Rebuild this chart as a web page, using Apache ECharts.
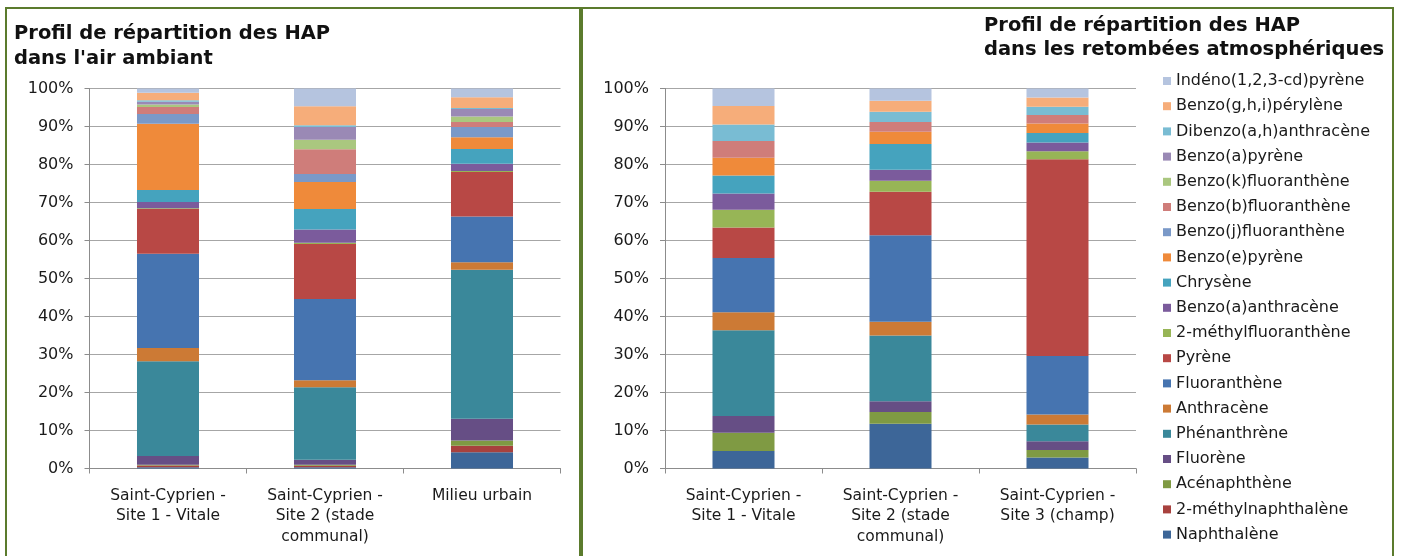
<!DOCTYPE html>
<html>
<head>
<meta charset="utf-8">
<script src="https://cdn.jsdelivr.net/npm/echarts@6/dist/echarts.min.js"></script>
<style>
  html, body { margin: 0; padding: 0; background: #fff; }
  #chart { width: 1402px; height: 556px; }
</style>
</head>
<body>
<div id="chart"></div>
<script>
// composés, du bas de la pile vers le haut
const compounds = [
  'Naphthalène', '2-méthylnaphthalène', 'Acénaphthène', 'Fluorène', 'Phénanthrène',
  'Anthracène', 'Fluoranthène', 'Pyrène', '2-méthylfluoranthène', 'Benzo(a)anthracène',
  'Chrysène', 'Benzo(e)pyrène', 'Benzo(j)fluoranthène', 'Benzo(b)fluoranthène',
  'Benzo(k)fluoranthène', 'Benzo(a)pyrène', 'Dibenzo(a,h)anthracène',
  'Benzo(g,h,i)pérylène', 'Indéno(1,2,3-cd)pyrène'
]
const colors = [
  '#3d6698', '#a8413e', '#7f9a43', '#664e85', '#3a889a',
  '#cc7a35', '#4674b0', '#b84845', '#97b556', '#7b5b9c',
  '#45a3be', '#ef8a3a', '#7a99c8', '#cf7d7a',
  '#aac77f', '#9a89b5', '#79bcd3',
  '#f6ad7a', '#b5c4df'
]

const airSites = ['Saint-Cyprien -\nSite 1 - Vitale', 'Saint-Cyprien -\nSite 2 (stade\ncommunal)', 'Milieu urbain']
const retSites = ['Saint-Cyprien -\nSite 1 - Vitale', 'Saint-Cyprien -\nSite 2 (stade\ncommunal)', 'Saint-Cyprien -\nSite 3 (champ)']

// % par site, même ordre que compounds
const airSite1 = [0.3, 0.5, 0.2, 2.3, 24.9, 3.5, 24.8, 11.8, 0.2, 1.6, 3.2, 17.4, 2.6, 1.8, 0.7, 0.7, 0.4, 2.0, 1.1]
const airSite2 = [0.3, 0.4, 0.3, 1.3, 19.1, 1.8, 21.4, 14.5, 0.3, 3.5, 5.4, 7.1, 2.1, 6.5, 2.5, 3.4, 0.4, 5.0, 4.7]
const airUrbain = [4.3, 1.7, 1.4, 5.7, 39.2, 2.0, 12.0, 11.7, 0.3, 1.9, 3.9, 3.1, 2.7, 1.3, 1.4, 2.0, 0.3, 2.8, 2.3]
const retSite1 = [4.6, 0, 4.8, 4.4, 22.6, 4.7, 14.3, 8.0, 4.7, 4.3, 4.7, 4.7, 0, 4.4, 0, 0, 4.3, 4.9, 4.6]
const retSite2 = [11.8, 0, 3.1, 2.8, 17.3, 3.6, 22.8, 11.4, 2.9, 2.9, 6.8, 3.2, 0, 2.6, 0, 0, 2.7, 2.9, 3.2]
const retSite3 = [2.9, 0, 2.0, 2.3, 4.4, 2.6, 15.4, 51.8, 2.1, 2.3, 2.5, 2.5, 0, 2.2, 0, 0, 2.2, 2.4, 2.4]

const font = 'DejaVu Sans, Verdana, sans-serif'
const textColor = '#1a1a1a'
const frameColor = '#5b7b2d'

function xAxis(grid, data) {
  return {
    type: 'category',
    gridIndex: grid,
    data,
    axisLine: { lineStyle: { color: '#8c8c8c' } },
    axisTick: { show: true, length: 5, lineStyle: { color: '#8c8c8c' } },
    axisLabel: { color: textColor, fontFamily: font, fontSize: 15.5, lineHeight: 20.5, margin: 17, interval: 0 },
  }
}
function yAxis(grid) {
  return {
    type: 'value',
    gridIndex: grid,
    min: 0,
    max: 100,
    interval: 10,
    axisLine: { show: true, lineStyle: { color: '#8c8c8c' } },
    axisTick: { show: true, length: 5, lineStyle: { color: '#8c8c8c' } },
    splitLine: { lineStyle: { color: '#a6a6a6' } },
    axisLabel: { color: textColor, fontFamily: font, fontSize: 16, margin: 16, formatter: '{value}%' },
  }
}

const series = []
compounds.forEach((name, i) => {
  series.push({
    name, type: 'bar', stack: 'air', xAxisIndex: 0, yAxisIndex: 0,
    barWidth: '39.5%', itemStyle: { color: colors[i] },
    data: [airSite1[i], airSite2[i], airUrbain[i]],
  })
  series.push({
    name, type: 'bar', stack: 'ret', xAxisIndex: 1, yAxisIndex: 1,
    barWidth: '39.5%', itemStyle: { color: colors[i] },
    data: [retSite1[i], retSite2[i], retSite3[i]],
  })
})

const chart = echarts.init(document.getElementById('chart'))
chart.setOption({
  animation: false,
  backgroundColor: '#fff',
  title: [
    {
      text: 'Profil de répartition des HAP\ndans l\'air ambiant',
      left: 14, top: 21, padding: 0,
      textStyle: { fontFamily: font, fontSize: 19.5, fontWeight: 'bold', color: '#111', lineHeight: 25 },
    },
    {
      text: 'Profil de répartition des HAP\ndans les retombées atmosphériques',
      left: 984, top: 14, padding: 0,
      textStyle: { fontFamily: font, fontSize: 19.5, fontWeight: 'bold', color: '#111', lineHeight: 24 },
    },
  ],
  legend: {
    orient: 'vertical',
    left: 1158,
    top: 68,
    icon: 'rect',
    itemWidth: 8,
    itemHeight: 8,
    itemGap: 9.2,
    data: compounds.slice().reverse(),
    textStyle: { fontFamily: font, fontSize: 16, lineHeight: 16, color: textColor },
  },
  grid: [
    { left: 89.5, top: 88.5, width: 471, height: 380 },
    { left: 665, top: 88.5, width: 471, height: 380 },
  ],
  xAxis: [xAxis(0, airSites), xAxis(1, retSites)],
  yAxis: [yAxis(0), yAxis(1)],
  series,
  graphic: [
    { type: 'rect', shape: { x: 6, y: 8, width: 574, height: 600 }, style: { fill: 'none', stroke: frameColor, lineWidth: 2 } },
    { type: 'rect', shape: { x: 582, y: 8, width: 811, height: 600 }, style: { fill: 'none', stroke: frameColor, lineWidth: 2 } },
  ],
})
</script>
</body>
</html>
